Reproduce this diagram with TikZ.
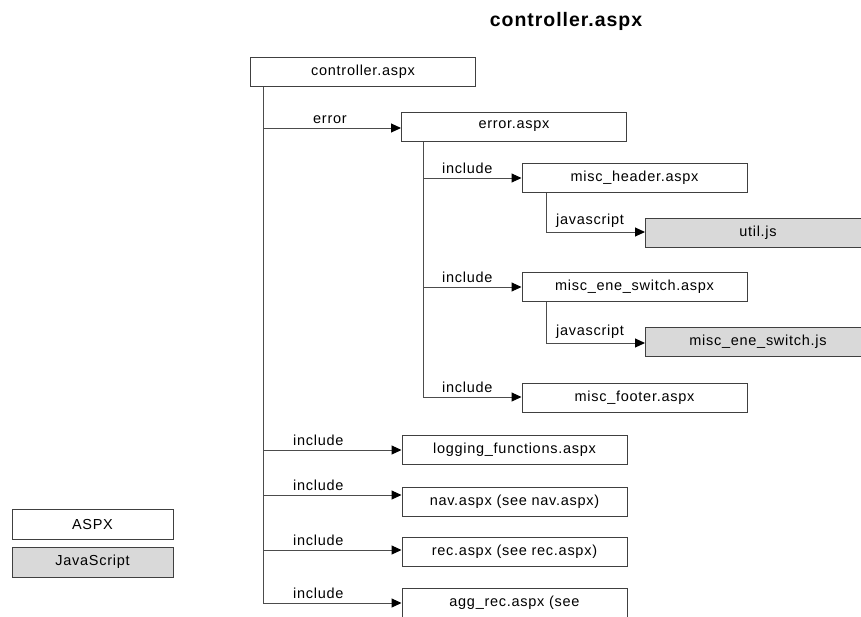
\documentclass[tikz,border=0pt]{standalone}
\usepackage{fontspec}
\setmainfont{Liberation Sans}[LetterSpace=5]
\usetikzlibrary{arrows.meta}

\begin{document}
\begin{tikzpicture}[x=1pt, y=-1pt,
  txt/.style={font=\fontsize{14.5}{16}\selectfont},
  box/.style={txt, draw=black!75, line width=1pt, minimum width=225pt,
    minimum height=29pt, inner sep=0pt},
  aspx/.style={box, fill=white},
  js/.style={box, fill=black!15},
  link/.style={draw=black!70, line width=1pt},
  arr/.style={link, -{Triangle[length=10pt, width=9pt, color=black]}},
  lbl/.style={txt, anchor=south west, inner sep=0pt}]

\clip (0,0) rectangle (861,616);
\fill[white] (0,0) rectangle (861,616);

% title
\node[anchor=base, inner sep=0pt, font=\fontsize{19.5}{22}\bfseries] (title) at (566,26) {controller.aspx};

% page nodes
\node[aspx] (ctrl)  at (363,72)    {controller.aspx};
\node[aspx] (err)   at (514,126.5) {error.aspx};
\node[aspx] (hdr)   at (634.5,177.5) {misc\_header.aspx};
\node[js]   (util)  at (758,232.5) {util.js};
\node[aspx] (ene)   at (634.5,287) {misc\_ene\_switch.aspx};
\node[js]   (enejs) at (758,342)   {misc\_ene\_switch.js};
\node[aspx] (ftr)   at (634.5,397.5) {misc\_footer.aspx};
\node[aspx] (log)   at (514.5,449.5) {logging\_functions.aspx};
\node[aspx] (nav)   at (514.5,501.5) {nav.aspx (see nav.aspx)};
\node[aspx] (rec)   at (514.5,552)   {rec.aspx (see rec.aspx)};
\node[aspx] (agg)   at (514.5,602.5) {agg\_rec.aspx (see};

% legend
\node[aspx, minimum width=161pt, minimum height=30pt] (lgA) at (92.5,524) {ASPX};
\node[js,   minimum width=161pt, minimum height=30pt] (lgJ) at (92.5,562) {JavaScript};

% main trunk from controller.aspx
\coordinate (tErr) at (263,128);
\coordinate (tLog) at (263,450);
\coordinate (tNav) at (263,495);
\coordinate (tRec) at (263,550);
\coordinate (tAgg) at (263,603);
\draw[link] (ctrl.south -| tAgg) -- (tAgg);
\draw[arr] (tErr) -- (err.west |- tErr);
\draw[arr] (tLog) -- (log.west |- tLog);
\draw[arr] (tNav) -- (nav.west |- tNav);
\draw[arr] (tRec) -- (rec.west |- tRec);
\draw[arr] (tAgg) -- (agg.west |- tAgg);

% branch from error.aspx
\coordinate (eHdr) at (423,178);
\coordinate (eEne) at (423,287);
\coordinate (eFtr) at (423,397);
\draw[link] (err.south -| eFtr) -- (eFtr);
\draw[arr] (eHdr) -- (hdr.west |- eHdr);
\draw[arr] (eEne) -- (ene.west |- eEne);
\draw[arr] (eFtr) -- (ftr.west |- eFtr);

% javascript branches
\coordinate (hJs) at (546,232);
\draw[link] (hdr.south -| hJs) -- (hJs);
\draw[arr] (hJs) -- (util.west |- hJs);
\coordinate (nJs) at (546,343);
\draw[link] (ene.south -| nJs) -- (nJs);
\draw[arr] (nJs) -- (enejs.west |- nJs);

% connector labels
\node[lbl] (lErr) at (313,124)   {error};
\node[lbl] (lHdr) at (442,173.5) {include};
\node[lbl] (lEne) at (442,282.5) {include};
\node[lbl] (lFtr) at (442,392.5) {include};
\node[lbl] (lUtl) at (556,227.5) {javascript};
\node[lbl] (lEjs) at (556,338.5) {javascript};
\node[lbl] (lLog) at (293,445.5) {include};
\node[lbl] (lNav) at (293,490.5) {include};
\node[lbl] (lRec) at (293,545.5) {include};
\node[lbl] (lAgg) at (293,598.5) {include};
\end{tikzpicture}
\end{document}
